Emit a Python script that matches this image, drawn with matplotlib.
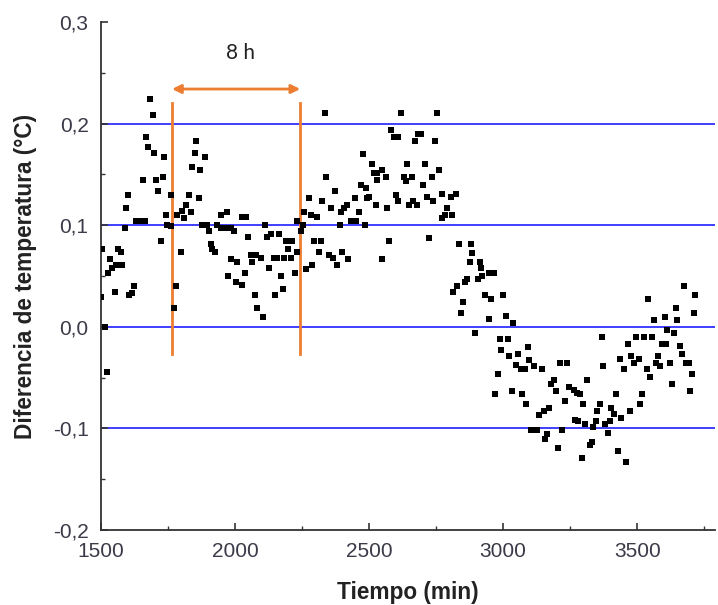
import matplotlib
matplotlib.use("Agg")
import matplotlib.pyplot as plt
from matplotlib.ticker import MultipleLocator, FuncFormatter

# --- data ---
tiempo = [
    1500, 1505, 1515, 1522, 1526, 1534, 1542, 1551, 1555, 1563, 1574, 1579, 1588, 1593, 1600,
    1604, 1615, 1623, 1629, 1648, 1663, 1656, 1667, 1675, 1683, 1693, 1698, 1706, 1714, 1723,
    1730, 1735, 1744, 1747, 1761, 1762, 1772, 1781, 1785, 1797, 1803, 1810, 1818, 1828, 1835,
    1841, 1850, 1856, 1866, 1871, 1878, 1894, 1887, 1903, 1909, 1915, 1924, 1934, 1947, 1949,
    1965, 1969, 1975, 1984, 1984,
    1997, 2005, 2009, 2025, 2027, 2042, 2036, 2050, 2059, 2065, 2074, 2077, 2081, 2096, 2104,
    2111, 2118, 2127, 2133, 2146, 2158, 2149, 2164, 2171, 2179, 2183, 2191, 2199, 2208, 2214,
    2223, 2230, 2232, 2245, 2254, 2257, 2266, 2274, 2285, 2286, 2295, 2305, 2313, 2320, 2326,
    2336, 2341, 2351, 2357, 2366, 2372, 2382, 2391, 2394, 2400, 2407, 2419, 2422, 2432, 2448,
    2450, 2463, 2469, 2478, 2485, 2490, 2494,
    2500, 2509, 2519, 2531, 2525, 2531, 2547, 2549, 2562, 2568, 2575, 2582, 2593, 2609, 2600,
    2606, 2619, 2631, 2637, 2643, 2649, 2659, 2665, 2672, 2680, 2681, 2693, 2702, 2709, 2717,
    2724, 2734, 2739, 2746, 2754, 2761, 2771, 2773, 2784, 2792, 2805, 2809, 2823,
    2813, 2829, 2835, 2844, 2851, 2858, 2867, 2876, 2879, 2885, 2895, 2908, 2913, 2917, 2923,
    2933, 2948, 2966, 2948, 2955, 2970, 2980, 2988, 3019, 2993, 3001, 3010, 3022, 3032, 3038,
    3047, 3054, 3066, 3082, 3070, 3085, 3091, 3097, 3103, 3128, 3116, 3134, 3144, 3153, 3157,
    3163, 3172, 3178, 3190, 3197, 3204, 3211, 3239, 3221, 3231, 3246, 3265, 3269, 3277,
    3281, 3286, 3293, 3299, 3306, 3314, 3323, 3331, 3336, 3346, 3352, 3361, 3368, 3374, 3381,
    3393, 3398, 3404, 3414, 3420, 3430, 3435, 3441, 3451, 3458, 3467, 3473, 3478, 3488, 3495,
    3505, 3510, 3517, 3526, 3535, 3540, 3547, 3555, 3562, 3572, 3576, 3585, 3591, 3607, 3603,
    3613, 3622, 3629, 3638, 3644, 3650, 3660, 3667, 3675, 3681, 3694, 3696, 3705, 3711, 3717,
]
diferencia = [
    0.029, 0.077, 0.000, -0.045, 0.053, 0.067, 0.058, 0.034, 0.061, 0.077, 0.074, 0.061, 0.097, 0.117, 0.130,
    0.031, 0.033, 0.040, 0.104, 0.104, 0.104, 0.144, 0.187, 0.177, 0.224, 0.208, 0.171, 0.144, 0.134, 0.084,
    0.147, 0.167, 0.110, 0.100, 0.130, 0.099, 0.018, 0.040, 0.110, 0.074, 0.114, 0.107, 0.120, 0.130, 0.113,
    0.157, 0.171, 0.183, 0.127, 0.154, 0.100, 0.100, 0.167, 0.094, 0.081, 0.077, 0.074, 0.100, 0.110, 0.097,
    0.097, 0.113, 0.050, 0.097, 0.067,
    0.094, 0.044, 0.064, 0.041, 0.108, 0.108, 0.053, 0.088, 0.071, 0.064, 0.031, 0.071, 0.018, 0.068, 0.010,
    0.100, 0.088, 0.058, 0.091, 0.068, 0.068, 0.031, 0.091, 0.050, 0.037, 0.068, 0.084, 0.077, 0.068, 0.084,
    0.053, 0.074, 0.104, 0.094, 0.100, 0.113, 0.057, 0.127, 0.110, 0.061, 0.084, 0.108, 0.074, 0.084, 0.124,
    0.210, 0.147, 0.071, 0.117, 0.068, 0.134, 0.061, 0.100, 0.113, 0.074, 0.117, 0.120, 0.067, 0.104, 0.127,
    0.104, 0.113, 0.140, 0.170, 0.100, 0.137, 0.127,
    0.128, 0.160, 0.151, 0.151, 0.120, 0.144, 0.154, 0.067, 0.147, 0.117, 0.084, 0.194, 0.187, 0.187, 0.130,
    0.124, 0.210, 0.147, 0.143, 0.160, 0.120, 0.147, 0.124, 0.183, 0.120, 0.190, 0.190, 0.140, 0.160, 0.128,
    0.087, 0.147, 0.124, 0.183, 0.210, 0.154, 0.131, 0.107, 0.110, 0.117, 0.128, 0.110, 0.131,
    0.034, 0.040, 0.081, 0.014, 0.024, 0.044, 0.047, 0.064, 0.081, 0.073, -0.006, 0.047, 0.064, 0.058, 0.050,
    0.031, 0.053, 0.053, 0.008, 0.027, -0.066, -0.046, -0.012, -0.012, -0.023, 0.031, 0.011, -0.029, -0.063, 0.004,
    -0.038, -0.027, -0.042, -0.042, -0.066, -0.076, -0.020, -0.033, -0.102, -0.102, -0.039, -0.087, -0.042, -0.083, -0.110,
    -0.106, -0.080, -0.056, -0.052, -0.063, -0.119, -0.036, -0.036, -0.102, -0.073, -0.059, -0.062, -0.092, -0.065,
    -0.093, -0.066, -0.129, -0.076, -0.096, -0.052, -0.116, -0.113, -0.099, -0.093, -0.083, -0.076, -0.010, -0.039, -0.096,
    -0.105, -0.093, -0.080, -0.086, -0.066, -0.122, -0.032, -0.090, -0.042, -0.133, -0.017, -0.083, -0.029, -0.036, -0.010,
    -0.032, -0.076, -0.066, -0.010, -0.042, 0.027, -0.049, -0.010, 0.007, -0.036, -0.029, -0.039, -0.017, -0.017, 0.010,
    -0.003, -0.036, -0.056, -0.006, 0.018, 0.007, -0.019, -0.027, 0.040, -0.036, -0.036, -0.063, -0.046, 0.014, 0.031,
]

lineas_ref = [0.2, 0.1, 0.0, -0.1]
ventana = [1765, 2243]          # start / end of the 8 h window (min)
ventana_y = [-0.027, 0.220]     # vertical extent of the window markers
flecha_y = 0.234
etiqueta = "8 h"

x_ticks = [1500, 2000, 2500, 3000, 3500]
y_ticks = [-0.2, -0.1, 0.0, 0.1, 0.2, 0.3]

plt.rcParams['font.family'] = ['Liberation Sans', 'DejaVu Sans']

fig = plt.figure(figsize=(7.18, 6.05), dpi=100)
ax = fig.add_axes([0.1407, 0.124, 0.855, 0.8397])

for yv in lineas_ref:
    ax.axhline(yv, color='#3f3fff', lw=1.4, zorder=1)

ax.scatter(tiempo, diferencia, marker='s', s=17, color='black', linewidths=0, zorder=3)

orange = '#ed7d31'
for xv in ventana:
    ax.plot([xv, xv], ventana_y, color=orange, lw=2, zorder=2)
ax.annotate('', xy=(ventana[0], flecha_y), xytext=(ventana[1], flecha_y),
            arrowprops=dict(arrowstyle='<|-|>', color=orange, lw=2,
                            mutation_scale=13, shrinkA=0, shrinkB=0))
ax.text(2022, 0.2695, etiqueta, ha='center', va='center',
        fontsize=15, color='#222222', family=['Lato', 'DejaVu Sans'])

ax.set_xlim(1500, 3790)
ax.set_ylim(-0.2, 0.3)
ax.set_xticks(x_ticks)
ax.set_yticks(y_ticks)
ax.xaxis.set_minor_locator(MultipleLocator(250))
ax.yaxis.set_minor_locator(MultipleLocator(0.05))
ax.yaxis.set_major_formatter(FuncFormatter(lambda v, p: f"{v:.1f}".replace('.', ',').replace('-0,0', '0,0')))

for s in ['top', 'right']:
    ax.spines[s].set_visible(False)
for s in ['left', 'bottom']:
    ax.spines[s].set_color('#333333')
    ax.spines[s].set_linewidth(1.3)

ax.tick_params(which='both', direction='in', colors='#333333', labelcolor='#3a3a48', labelsize=15)
ax.tick_params(which='major', length=5, width=1.2)
ax.tick_params(which='minor', length=3, width=1.0)
ax.tick_params(axis='x', pad=9)
ax.tick_params(axis='y', pad=9)

ax.set_xlabel('Tiempo (min)', fontsize=16.3, fontweight='bold', labelpad=14, color='#222222')
ax.set_ylabel('Diferencia de temperatura (°C)', fontsize=16.3, fontweight='bold', labelpad=11, color='#222222')

fig.savefig('out.png', dpi=100)
